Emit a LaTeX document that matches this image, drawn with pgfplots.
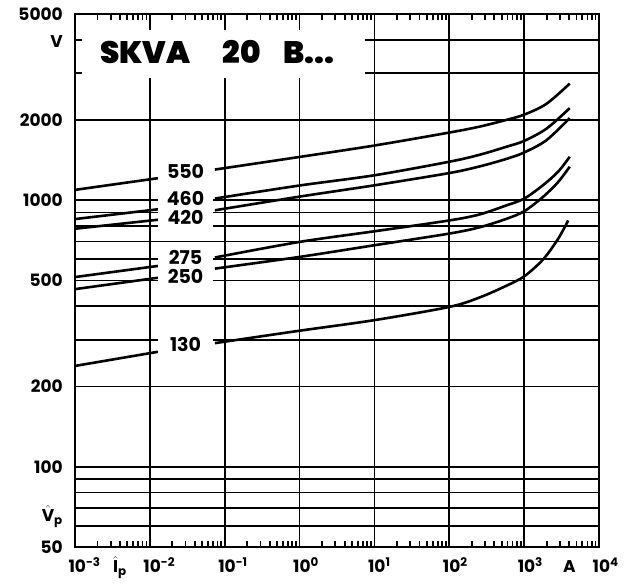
\documentclass[border=0pt]{standalone}
\usepackage{pgfplots}
\pgfplotsset{compat=1.18}
\usepackage{amsmath}
\usepackage{fontspec}
\setmainfont{Poppins}
\IfFontExistsTF{Poppins Black}{\newfontfamily\titlefont{Poppins Black}}{%
  \IfFontExistsTF{Poppins ExtraBold}{\newfontfamily\titlefont{Poppins ExtraBold}}{%
    \newfontfamily\titlefont{Poppins}[FakeBold=3]}}
\begin{document}
\begin{tikzpicture}
\useasboundingbox (-75pt,-37pt) rectangle (556pt,547pt);
\begin{axis}[
  at={(0pt,0pt)}, anchor=south west,
  scale only axis, width=524pt, height=533pt,
  xmode=log, ymode=log,
  xmin=1e-3, xmax=1e4, ymin=50, ymax=5000,
  xtick={1e-3,1e-2,1e-1,1,10,100,1000,10000},
  xticklabels={{\llap{1}\rlap{0\textsuperscript{-3}}},{\llap{1}\rlap{0\textsuperscript{-2}}},{\llap{1}\rlap{0\textsuperscript{-1}}},{\llap{1}\rlap{0\textsuperscript{0}}},{\llap{1}\rlap{0\textsuperscript{1}}},{\llap{1}\rlap{0\textsuperscript{2}}},{\llap{1}\rlap{0\textsuperscript{3}}},{\llap{1}\rlap{0\textsuperscript{4}}}},
  minor xtick={},
  ytick={50,100,200,500,1000,2000,5000},
  yticklabels={50,100,200,500,1000,2000,5000},
  minor ytick={60,70,80,90,300,400,600,700,800,900,3000,4000},
  xmajorgrids, ymajorgrids, yminorgrids,
  every major grid/.style={line width=1.8pt, black},
  every minor grid/.style={line width=1.8pt, black},
  axis line style={line width=2.2pt, black},
  tick style={line width=1.8pt, black},
  major tick length=6pt, minor tick length=6pt,
  tick align=inside,
  xticklabel style={anchor=base, inner sep=0pt, yshift=-26pt, font=\fontsize{17}{17}\selectfont\bfseries},
  yticklabel style={anchor=east, inner sep=0pt, xshift=-12pt, font=\fontsize{17}{17}\selectfont\bfseries},
  no marks,
  clip=false,
  crv/.style={line width=2.6pt, black, solid, smooth},
]
% 550
\addplot[crv] coordinates {(0.001,1094) (0.0128,1210)};
\addplot[crv] coordinates {(0.074,1304) (1,1454) (10,1605) (100,1795) (255,1890) (581,2003) (1000,2095) (1985,2300) (4064,2740)};
% 460
\addplot[crv] coordinates {(0.001,850) (0.0128,925)};
\addplot[crv] coordinates {(0.074,1015) (1,1136) (10,1241) (100,1395) (255,1482) (581,1588) (1000,1670) (1985,1856) (4064,2216)};
% 420
\addplot[crv] coordinates {(0.001,782) (0.0128,845)};
\addplot[crv] coordinates {(0.074,917) (1,1032) (10,1138) (100,1265) (255,1340) (581,1430) (1000,1511) (1985,1680) (4064,2034)};
% 275
\addplot[crv] coordinates {(0.001,515) (0.0128,567)};
\addplot[crv] coordinates {(0.074,610) (1,698) (10,765) (100,840) (255,885) (581,957) (1000,1014) (1786,1139) (2838,1279) (4064,1456)};
% 250
\addplot[crv] coordinates {(0.001,464) (0.0128,512)};
\addplot[crv] coordinates {(0.074,554) (1,613) (10,678) (100,750) (255,792) (581,852) (1000,909) (1786,1029) (2838,1170) (4064,1336)};
% 130
\addplot[crv] coordinates {(0.001,239) (0.0128,270)};
\addplot[crv] coordinates {(0.074,291) (1,324) (10,355) (100,398) (255,432) (581,478) (1000,518) (1786,599) (2838,716) (3882,840)};

% curve labels
\tikzset{clab/.style={fill=white, minimum width=55pt, inner xsep=0pt, inner ysep=3pt, text height=13.5pt, text depth=0pt, font=\fontsize{19}{19}\selectfont\bfseries}}
\node[clab] at (rel axis cs:0.211,0.7036) {550};
\node[clab] at (rel axis cs:0.211,0.653) {460};
\node[clab] at (rel axis cs:0.211,0.617) {420};
\node[clab] at (rel axis cs:0.211,0.542) {275};
\node[clab] at (rel axis cs:0.211,0.5066) {250};
\node[clab] at (rel axis cs:0.211,0.379) {130};

% title box
\fill[white] (rel axis cs:0.0134,0.880) rectangle (rel axis cs:0.553,0.970);
\tikzset{ttl/.style={anchor=base west, inner sep=0pt, font=\fontsize{31}{31}\titlefont}}
\node[ttl] at (rel axis cs:0.0477,0.908) {SKVA};
\node[ttl] at (rel axis cs:0.282,0.908) {20};
\node[ttl] at (rel axis cs:0.397,0.908) {B...};

% axis names
\node[anchor=east, inner sep=0pt, font=\fontsize{17}{17}\selectfont\bfseries] at (rel axis cs:-0.0229,0.9475) {V};
\node[anchor=base east, inner sep=0pt, font=\fontsize{17}{17}\selectfont\bfseries] at (rel axis cs:-0.0229,0.047) {$\hat{\text{\bfseries V}}_{\text{\bfseries p}}$};
\node[anchor=base west, inner sep=0pt, font=\fontsize{17}{17}\selectfont\bfseries] at (rel axis cs:0.0725,-0.0485) {$\hat{\text{\bfseries I}}_{\text{\bfseries p}}$};
\node[anchor=base west, inner sep=0pt, font=\fontsize{17}{17}\selectfont\bfseries] at (rel axis cs:0.931,-0.0485) {A};
\end{axis}
\end{tikzpicture}
\end{document}
